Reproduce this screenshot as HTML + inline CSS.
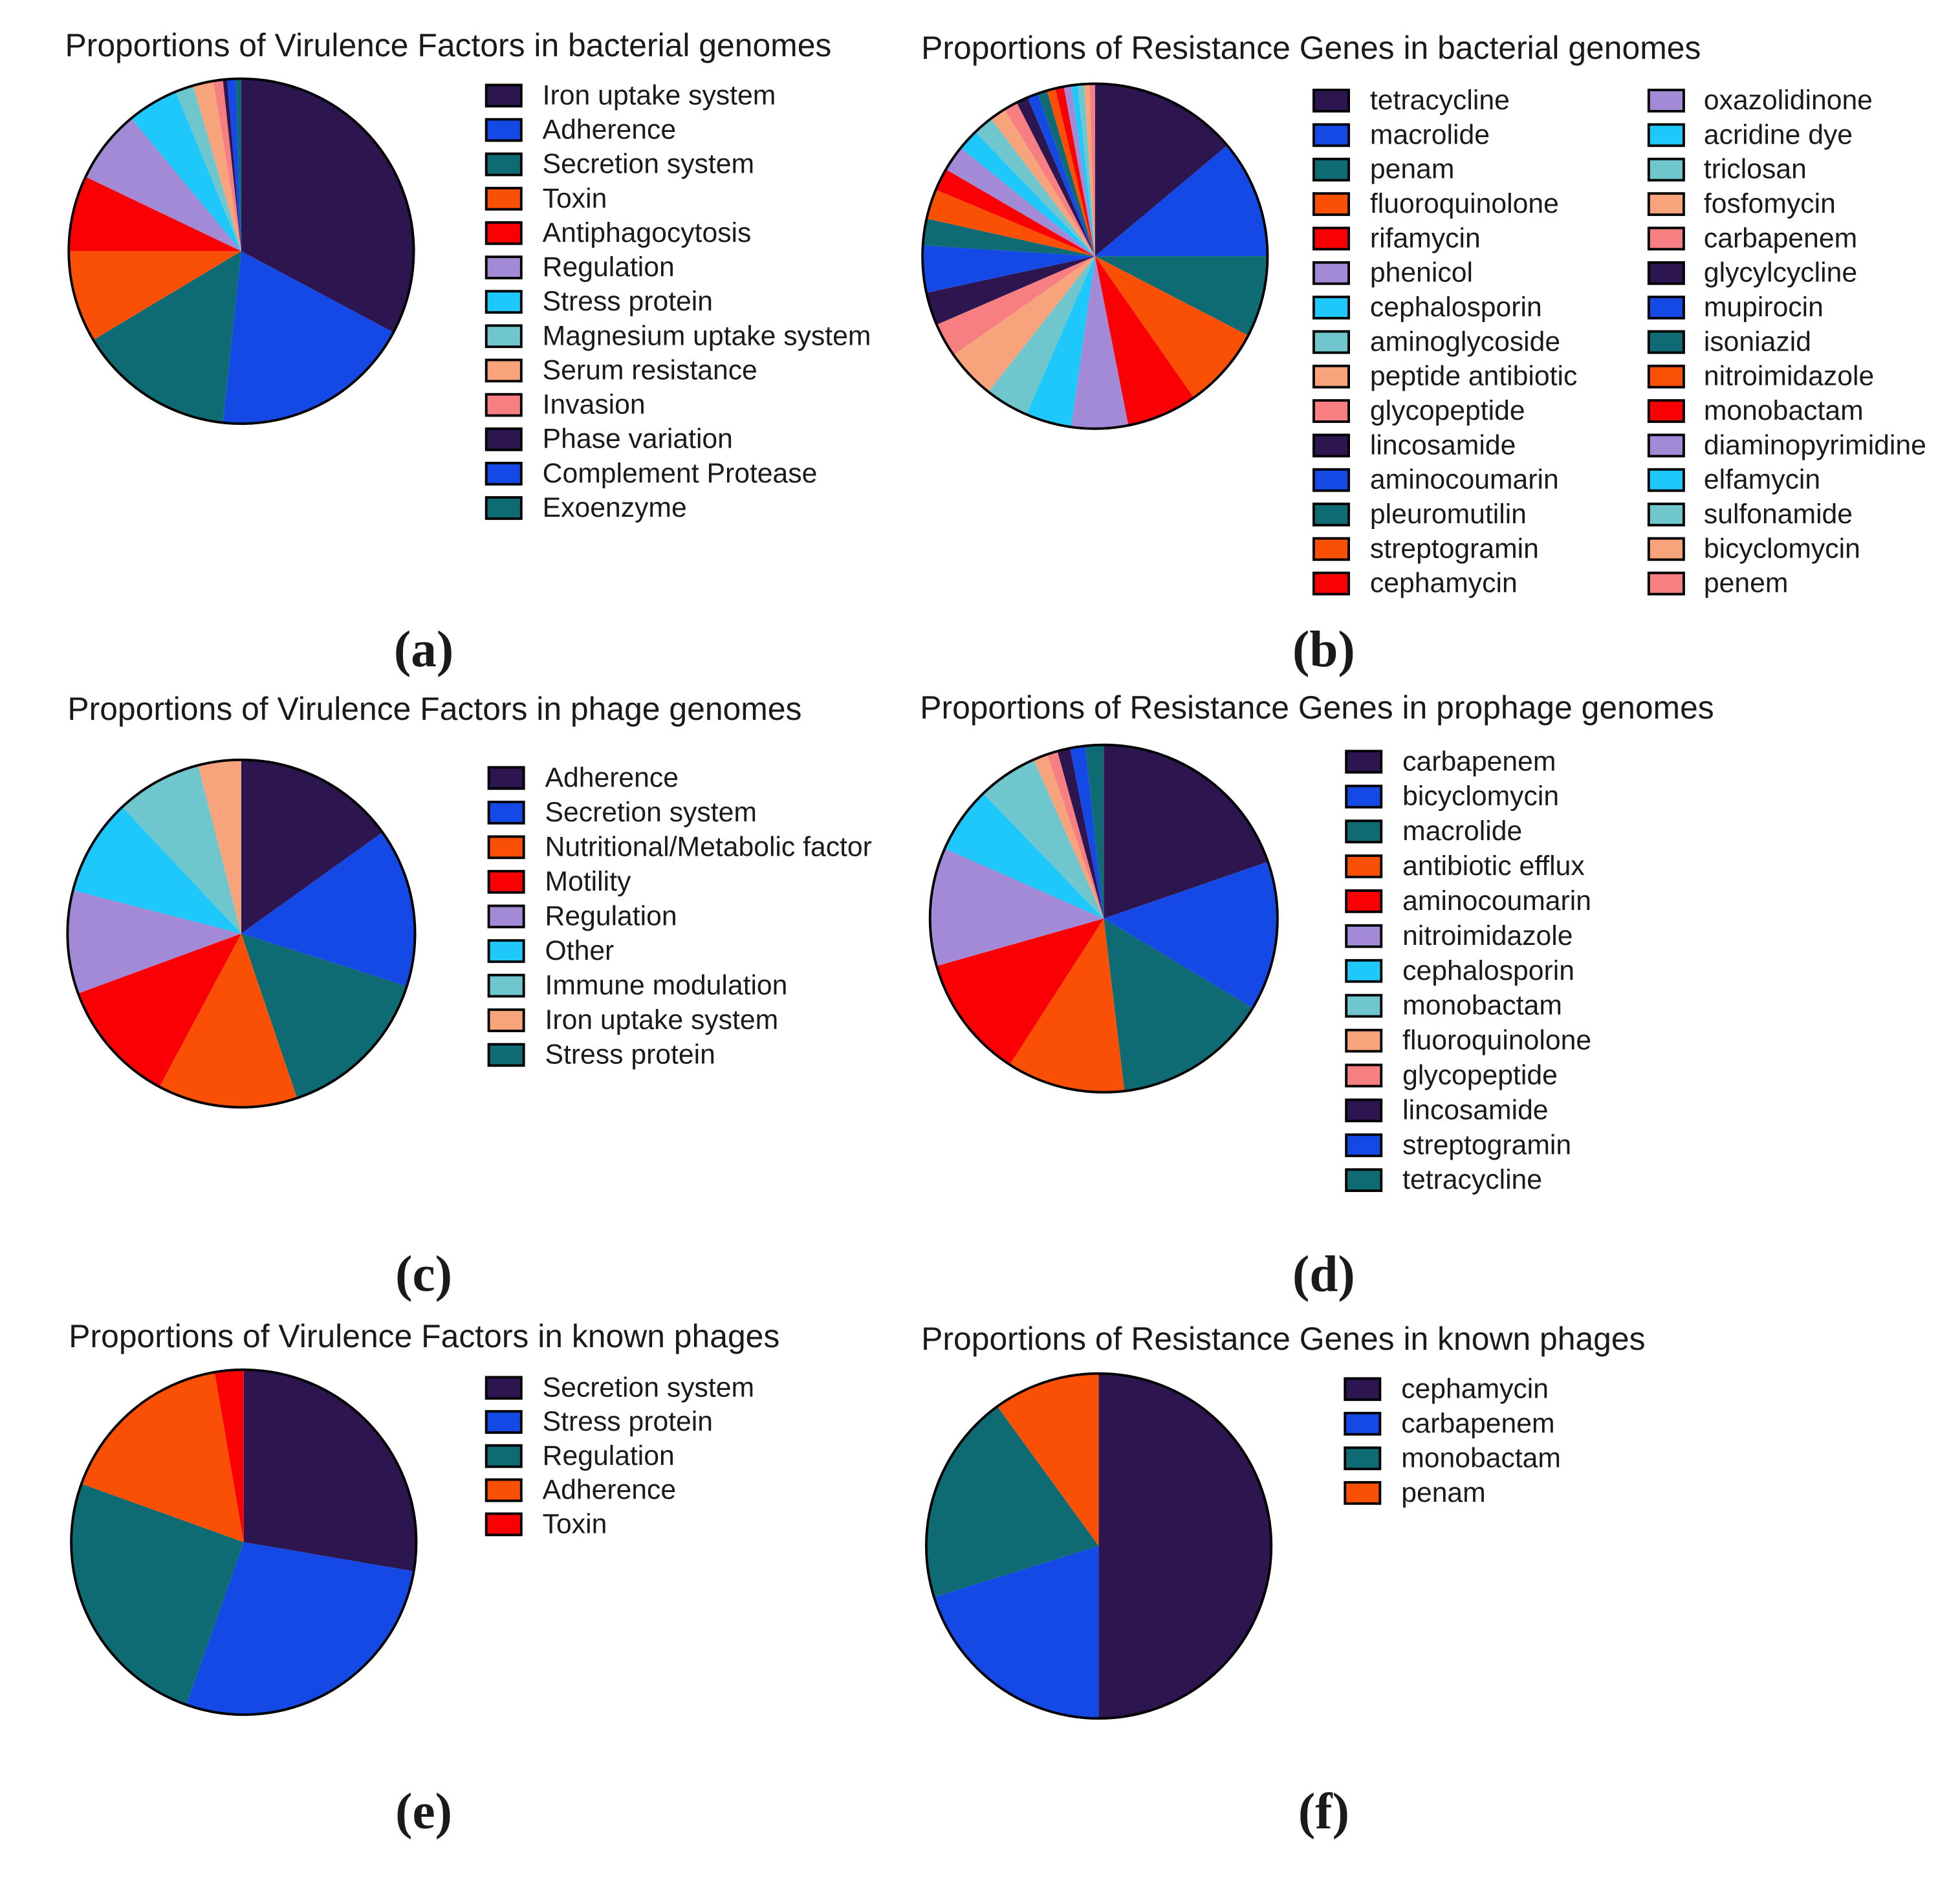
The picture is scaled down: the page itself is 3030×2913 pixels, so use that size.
<!DOCTYPE html>
<html><head><meta charset="utf-8">
<style>
html,body{margin:0;padding:0;background:#fff;}
svg{display:block;}
text{font-family:"Liberation Sans",sans-serif;fill:#1a1a1a;}
.pl{font-family:"Liberation Serif",serif;font-weight:bold;font-size:41px;}
</style></head>
<body>
<svg id="fig" width="3030" height="2913" viewBox="0 0 1568 1507.5" preserveAspectRatio="none" xmlns="http://www.w3.org/2000/svg"></svg>
<script>
const palette = ["#2d1650","#1449e6","#0f6b73","#fa5005","#fa0005","#a38ad6","#1ec8fa","#6fc7cd","#f7a47d","#f77f82"];

// (a)
const aLabels = ["Iron uptake system","Adherence","Secretion system","Toxin","Antiphagocytosis","Regulation","Stress protein","Magnesium uptake system","Serum resistance","Invasion","Phase variation","Complement Protease","Exoenzyme"];
const aValues = [32.8,18.9,14.7,8.6,7.1,6.9,4.8,1.7,1.9,0.9,0.4,0.8,0.5];
// (b)
const bLabels = ["tetracycline","macrolide","penam","fluoroquinolone","rifamycin","phenicol","cephalosporin","aminoglycoside","peptide antibiotic","glycopeptide","lincosamide","aminocoumarin","pleuromutilin","streptogramin","cephamycin","oxazolidinone","acridine dye","triclosan","fosfomycin","carbapenem","glycylcycline","mupirocin","isoniazid","nitroimidazole","monobactam","diaminopyrimidine","elfamycin","sulfonamide","bicyclomycin","penem"];
const bValues = [13.9,11.1,7.6,7.7,6.6,5.3,4.3,4.1,4.7,3.2,3.1,4.4,2.5,2.8,2.1,2.4,2.0,1.9,1.5,1.3,1.1,1.0,0.9,0.8,0.8,0.7,0.6,0.6,0.5,0.5];
// (c) legend order and pie order differ
const cLegend = ["Adherence","Secretion system","Nutritional/Metabolic factor","Motility","Regulation","Other","Immune modulation","Iron uptake system","Stress protein"];
const cLegendColors = [0,1,3,4,5,6,7,8,2];
const cPieLabels = ["Adherence","Secretion system","Stress protein","Nutritional/Metabolic factor","Motility","Regulation","Other","Immune modulation","Iron uptake system"];
const cValues = [15.1,14.8,14.9,13.0,11.6,9.6,9.0,8.0,4.0];
// (d)
const dLabels = ["carbapenem","bicyclomycin","macrolide","antibiotic efflux","aminocoumarin","nitroimidazole","cephalosporin","monobactam","fluoroquinolone","glycopeptide","lincosamide","streptogramin","tetracycline"];
const dValues = [19.7,13.9,14.5,11.0,11.5,11.0,6.2,5.6,1.3,1.0,1.2,1.4,1.7];
// (e)
const eLabels = ["Secretion system","Stress protein","Regulation","Adherence","Toxin"];
const eValues = [27.7,27.7,25.1,16.8,2.7];
// (f)
const fLabels = ["cephamycin","carbapenem","monobactam","penam"];
const fValues = [50,20.2,19.8,10];

const NS="http://www.w3.org/2000/svg";
const svg=document.getElementById('fig');
function mk(tag,attrs,parent){const e=document.createElementNS(NS,tag);for(const k in attrs)e.setAttribute(k,attrs[k]);(parent||svg).appendChild(e);return e;}

function drawPie(id,cx,cy,r,values,labels,colorIdx){
  const g=mk('g',{});
  
  
  const total=values.reduce((a,b)=>a+b,0);
  let acc=0;
  values.forEach((v,i)=>{
    const a0=acc/total*2*Math.PI; acc+=v; const a1=acc/total*2*Math.PI;
    const x0=cx+r*Math.sin(a0),y0=cy-r*Math.cos(a0),x1=cx+r*Math.sin(a1),y1=cy-r*Math.cos(a1);
    const large=(a1-a0)>Math.PI?1:0;
    const p=mk('path',{d:`M${cx},${cy}L${x0},${y0}A${r},${r} 0 ${large} 1 ${x1},${y1}Z`,fill:palette[colorIdx?colorIdx[i]:i%10]},g);
    
    
  });
  mk('circle',{cx:cx,cy:cy,r:r,fill:'none',stroke:'#000','stroke-width':2},g);
}
function drawLegend(id,x,tx,y0,dy,labels,colors){
  const g=mk('g',{});
  
  
  labels.forEach((l,i)=>{
    const y=y0+i*dy;
    const r=mk('rect',{x:x,y:y-8,width:28,height:17,fill:palette[colors[i]],stroke:'#000','stroke-width':2},g);
    
    
    const t=mk('text',{x:tx,y:y+7.5,'font-size':22.1},g);
    t.textContent=l;
    
    
  });
}
function title(x,y,s){const t=mk('text',{x:x,y:y,'font-size':25.8});t.textContent=s;
  
  }
function plabel(x,y,s){const t=mk('text',{x:x,y:y,'text-anchor':'middle',class:'pl'});t.textContent=s;
  
  }

// (a)
title(52,45,"Proportions of Virulence Factors in bacterial genomes");
drawPie('a',193,201,138,aValues,aLabels);
drawLegend('a',389,434,76,27.5,aLabels,aLabels.map((_,i)=>i%10));
plabel(339,533,"(a)");
// (b)
title(737,47,"Proportions of Resistance Genes in bacterial genomes");
drawPie('b',876,205,138,bValues,bLabels);
drawLegend('b1',1051,1096,80,27.6,bLabels.slice(0,15),bLabels.slice(0,15).map((_,i)=>i%10));
drawLegend('b2',1319,1363,80,27.6,bLabels.slice(15),bLabels.slice(15).map((_,i)=>(i+15)%10));
plabel(1059,533,"(b)");
// (c)
title(54,576,"Proportions of Virulence Factors in phage genomes");
drawPie('c',193,747,139,cValues,cPieLabels,[0,1,2,3,4,5,6,7,8]);
drawLegend('c',391,436,622,27.7,cLegend,cLegendColors);
plabel(339,1033,"(c)");
// (d)
title(736,575,"Proportions of Resistance Genes in prophage genomes");
drawPie('d',883,735,139,dValues,dLabels);
drawLegend('d',1077,1122,609,27.9,dLabels,dLabels.map((_,i)=>i%10));
plabel(1059,1033,"(d)");
// (e)
title(55,1078,"Proportions of Virulence Factors in known phages");
drawPie('e',195,1234,138,eValues,eLabels);
drawLegend('e',389,434,1110,27.3,eLabels,eLabels.map((_,i)=>i));
plabel(339,1463,"(e)");
// (f)
title(737,1080,"Proportions of Resistance Genes in known phages");
drawPie('f',879,1237,138,fValues,fLabels);
drawLegend('f',1076,1121,1111,27.7,fLabels,fLabels.map((_,i)=>i));
plabel(1059,1463,"(f)");
</script>
</body></html>
